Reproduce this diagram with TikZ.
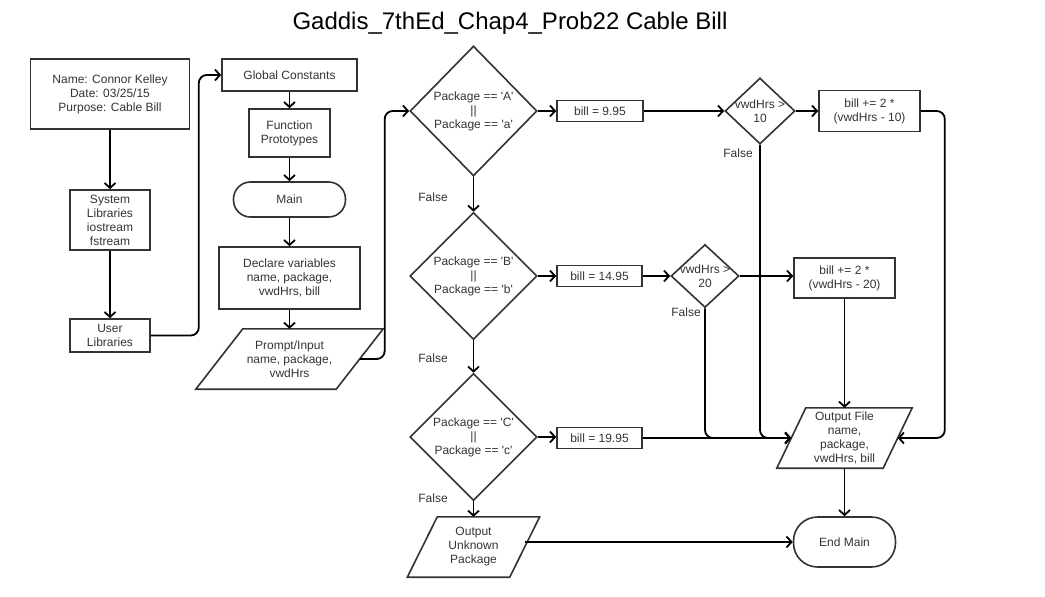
\documentclass[tikz,border=0pt]{standalone}
\usepackage{fontspec}
\setmainfont{Liberation Sans}[Ligatures=TeXOff]
\usetikzlibrary{arrows.meta,shapes.geometric}
\definecolor{ln}{HTML}{333333}
\newcommand\paraoutline[2]{%
  \draw[draw=ln,line width=1.6pt,line join=miter] ([xshift=#2]#1.north west) -- ([xshift=#2]#1.north east) -- ([xshift=-#2]#1.south east) -- ([xshift=-#2]#1.south west) -- cycle;}
\begin{document}
\begin{tikzpicture}[x=1pt,y=-1pt,
  every node/.style={font=\fontsize{12}{14}\selectfont, text=ln},
  box/.style={draw=ln, line width=1.6pt, align=center, inner sep=0pt},
  term/.style={box, rounded corners=#1},
  para/.style={align=center, inner sep=0pt},
  dia/.style={draw=ln, line width=1.6pt, shape=diamond, inner sep=0pt},
  arr/.style={draw=black, line width=1.8pt, -{Straight Barb[length=5pt,width=11pt]}, rounded corners=8pt}]
\useasboundingbox (0,0) rectangle (1045,597);
\node[font=\fontsize{24}{28}\selectfont, text=black, anchor=base] (title) at (510,30) {Gaddis\_7thEd\_Chap4\_Prob22 Cable Bill};
% left column
\node[box, minimum width=159pt, minimum height=70pt] (hdr) at (110,94) {Name: Connor Kelley\\Date: 03/25/15\\Purpose: Cable Bill};
\node[box, minimum width=80pt, minimum height=60pt] (sys) at (110,220) {System\\Libraries\\iostream\\fstream};
\node[box, minimum width=80pt, minimum height=33pt] (usr) at (110,335.5) {User\\Libraries};
% second column
\node[box, minimum width=135pt, minimum height=32pt] (gc) at (289.5,75) {Global Constants};
\node[box, minimum width=81pt, minimum height=48pt] (fp) at (289.5,133) {Function\\Prototypes};
\node[term=17pt, minimum width=112pt, minimum height=35pt] (main) at (289.5,199.5) {Main};
\node[box, minimum width=141pt, minimum height=62pt] (decl) at (289.5,278) {Declare variables\\name, package,\\vwdHrs, bill};
\node[para, minimum width=140pt, minimum height=60pt] (pin) at (289.5,359) {Prompt/Input\\name, package,\\vwdHrs};
\paraoutline{pin}{23.5pt}
% decisions
\node[dia, minimum width=127pt, minimum height=130pt, label={[align=center]center:{Package == 'A'\\||\\Package == 'a'}}] (dA) at (473.5,111) {};
\node[dia, minimum width=127pt, minimum height=127pt, label={[align=center]center:{Package == 'B'\\||\\Package == 'b'}}] (dB) at (473.5,276) {};
\node[dia, minimum width=127pt, minimum height=127pt, label={[align=center]center:{Package == 'C'\\||\\Package == 'c'}}] (dC) at (473.5,437) {};
\node[box, minimum width=86pt, minimum height=21pt] (b1) at (600,111) {bill = 9.95};
\node[box, minimum width=85pt, minimum height=21pt] (b2) at (599.5,276) {bill = 14.95};
\node[box, minimum width=85pt, minimum height=21pt] (b3) at (599.5,438) {bill = 19.95};
\node[dia, minimum width=70pt, minimum height=66pt, label={[align=center]center:{vwdHrs >\\10}}] (d10) at (760,111) {};
\node[box, minimum width=101pt, minimum height=41pt] (b10) at (869.5,111) {bill += 2 *\\(vwdHrs - 10)};
\node[dia, minimum width=68pt, minimum height=63pt, label={[align=center]center:{vwdHrs >\\20}}] (d20) at (705,276) {};
\node[box, minimum width=101pt, minimum height=40pt] (b20) at (844.5,278) {bill += 2 *\\(vwdHrs - 20)};
\node[para, minimum width=106pt, minimum height=60pt] (of) at (844.5,438) {Output File\\name,\\package,\\vwdHrs, bill};
\paraoutline{of}{14.5pt}
\node[term=24pt, minimum width=102pt, minimum height=50pt] (em) at (844.5,542) {End Main};
\node[para, minimum width=102pt, minimum height=60pt] (ou) at (473.5,547) {Output\\Unknown\\Package};
\paraoutline{ou}{15pt}
% False labels
\node (f1) at (433,197) {False};
\node (f2) at (433,358) {False};
\node (f3) at (433,498) {False};
\node (f4) at (738,153) {False};
\node (f5) at (686,312) {False};
% connectors
\draw[arr] (hdr) -- (sys);
\draw[arr] (sys) -- (usr);
\draw[arr] (usr.east) -- ++(48,0) |- (gc.west);
\draw[arr] (gc) -- (fp);
\draw[arr] (fp) -- (main);
\draw[arr] (main) -- (decl);
\draw[arr] (decl) -- (pin);
\draw[arr] (pin.east) -- ++(25,0) |- (dA.west);
\draw[arr] (dA) -- (dB);
\draw[arr] (dB) -- (dC);
\draw[arr] (dC) -- (ou);
\draw[arr] (dA) -- (b1);
\draw[arr] (b1) -- (d10);
\draw[arr] (d10.east) -- (d10.east -| b10.west);
\draw[arr] (b10.east) -- ++(24,0) |- (of.east);
\draw[arr] (d10.south) |- (of.west);
\draw[arr] (dB) -- (b2);
\draw[arr] (b2) -- (d20);
\draw[arr] (d20.east) -- (d20.east -| b20.west);
\draw[arr] (d20.south) |- (of.west);
\draw[arr] (b20) -- (of);
\draw[arr] (dC.east) -- (dC.east -| b3.west);
\draw[arr] (b3.east) -- (of.west);
\draw[arr] (of) -- (em);
\draw[arr] (em.west -| ou.east) -- (em.west);
\end{tikzpicture}
\end{document}
